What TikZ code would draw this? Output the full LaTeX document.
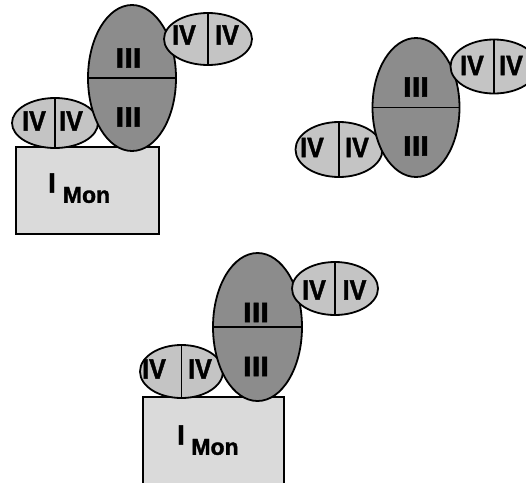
\documentclass[tikz,border=0pt]{standalone}
\usepackage{fontspec}
\setmainfont{Liberation Sans}[BoldFeatures={FakeBold=1.5}]
\usetikzlibrary{shapes.geometric}
\definecolor{bigfill}{HTML}{8C8C8C}
\definecolor{smallfill}{HTML}{C4C4C4}
\definecolor{rectfill}{HTML}{DADADA}
\newcommand{\labIV}{\scalebox{0.9}[1]{IV}}
\newcommand{\labIII}{\scalebox{1.12}[1]{III}}
\tikzset{
  bigell/.style={ellipse, draw=black, line width=1.8pt, fill=bigfill, inner sep=0pt},
  smallell/.style={ellipse, draw=black, line width=1.8pt, fill=smallfill, inner sep=0pt},
  monbox/.style={rectangle, draw=black, line width=1.1pt, fill=rectfill, inner sep=0pt},
  divider/.style={line width=1.5pt},
  lab/.style={font=\fontsize{28}{28}\selectfont\bfseries, inner sep=0pt},
  ilab/.style={font=\fontsize{28}{28}\selectfont\bfseries, inner sep=0pt},
  monlab/.style={font=\fontsize{23}{23}\selectfont\bfseries, inner sep=0pt}
}
\begin{document}
\begin{tikzpicture}[x=1pt,y=-1pt]
\useasboundingbox (0,0) rectangle (526,482);
\clip (0,0) rectangle (526,482);
% ---------- group 1 ----------
\node[monbox, minimum width=143pt, minimum height=87pt] (R1) at (87.5,190.5) {};
\node[smallell, minimum width=86pt, minimum height=50pt] (L1) at (55,123) {};
\draw[divider] (L1.north) -- (L1.south);
\node[bigell, minimum width=88pt, minimum height=146pt] (B1) at (132,78) {};
\draw[divider] (B1.west) -- (B1.east);
\node[smallell, minimum width=88pt, minimum height=52pt] (T1) at (208,39) {};
\draw[divider] (T1.north) -- (T1.south);
\node[lab] (B1a) at (128.5,58) {\labIII};
\node[lab] (B1b) at (128.5,117) {\labIII};
\node[lab] (L1a) at (34,121) {\labIV};
\node[lab] (L1b) at (71,121) {\labIV};
\node[lab] (T1a) at (184,35) {\labIV};
\node[lab] (T1b) at (227,35) {\labIV};
\node[ilab] (I1) at (52,183) {I};
\node[monlab] (M1) at (86.5,195) {Mon};
% ---------- group 2 ----------
\node[smallell, minimum width=87pt, minimum height=55pt] (L2) at (339,149.5) {};
\draw[divider] (L2.north) -- (L2.south);
\node[bigell, minimum width=87pt, minimum height=139pt] (B2) at (416,107.5) {};
\draw[divider] (B2.west) -- (B2.east);
\node[smallell, minimum width=87pt, minimum height=54pt] (T2) at (494,66.5) {};
\draw[divider] (T2.north) -- (T2.south);
\node[lab] (B2a) at (416,87) {\labIII};
\node[lab] (B2b) at (416,146) {\labIII};
\node[lab] (L2a) at (312,147.5) {\labIV};
\node[lab] (L2b) at (357,147.5) {\labIV};
\node[lab] (T2a) at (472,65.5) {\labIV};
\node[lab] (T2b) at (511,65.5) {\labIV};
% ---------- group 3 ----------
\node[monbox, minimum width=141pt, minimum height=95pt] (R3) at (213.5,444.5) {};
\node[smallell, minimum width=83pt, minimum height=53pt] (L3) at (181.5,371.5) {};
\draw[divider] (L3.north) -- (L3.south);
\node[bigell, minimum width=89pt, minimum height=148pt] (B3) at (257.5,327) {};
\draw[divider] (B3.west) -- (B3.east);
\node[smallell, minimum width=86pt, minimum height=53pt] (T3) at (335,288.5) {};
\draw[divider] (T3.north) -- (T3.south);
\node[lab] (B3a) at (256,312.5) {\labIII};
\node[lab] (B3b) at (256,366.5) {\labIII};
\node[lab] (L3a) at (154,369) {\labIV};
\node[lab] (L3b) at (200,369) {\labIV};
\node[lab] (T3a) at (314,290) {\labIV};
\node[lab] (T3b) at (354.5,290) {\labIV};
\node[ilab] (I3) at (181,435) {I};
\node[monlab] (M3) at (215,447) {Mon};
\end{tikzpicture}
\end{document}
